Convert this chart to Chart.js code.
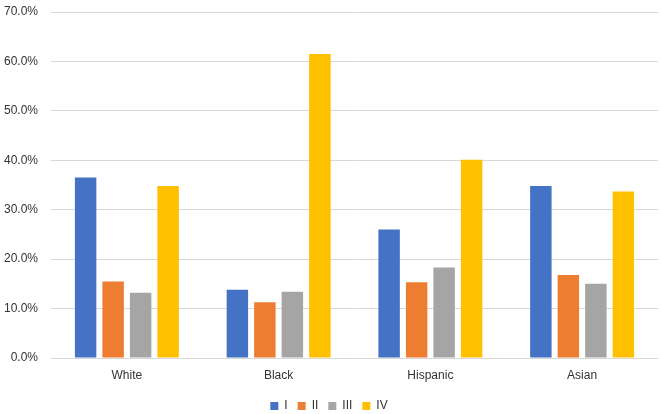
<!DOCTYPE html>
<html>
<head>
<meta charset="utf-8">
<script src="https://cdn.jsdelivr.net/npm/chart.js@4/dist/chart.umd.min.js"></script>
<style>
  html, body { margin: 0; padding: 0; background: #fff; }
  #wrap { width: 662px; height: 414px; }
</style>
</head>
<body>
<div id="wrap"><canvas id="myChart" width="662" height="414"></canvas></div>
<script>
// data
const categories = ['White', 'Black', 'Hispanic', 'Asian'];
const seriesNames = ['I', 'II', 'III', 'IV'];
const valuesI   = [36.5, 13.8, 26.0, 34.8];
const valuesII  = [15.5, 11.3, 15.3, 16.8];
const valuesIII = [13.2, 13.4, 18.3, 15.0];
const valuesIV  = [34.8, 61.5, 40.1, 33.7];
const yTicks = [0, 10, 20, 30, 40, 50, 60, 70];

const colors = ['#4472C4', '#ED7D31', '#A5A5A5', '#FFC000'];
const allValues = [valuesI, valuesII, valuesIII, valuesIV];

const data = {
  labels: categories,
  datasets: seriesNames.map((name, i) => ({
    label: name,
    data: allValues[i],
    backgroundColor: colors[i],
    borderWidth: 0,
    categoryPercentage: 0.725,
    barPercentage: 0.78
  }))
};

const font = { family: '"Liberation Sans", Arial, sans-serif', size: 12 };

// config
const config = {
  type: 'bar',
  data,
  options: {
    responsive: false,
    animation: false,
    layout: { padding: { top: 12, right: 4, left: 0, bottom: -8 } },
    scales: {
      x: {
        grid: { display: false, drawTicks: false },
        border: { display: false },
        ticks: { color: '#333333', font, padding: 10 },
        afterFit: (s) => { s.height = 32; }
      },
      y: {
        min: 0,
        max: 70,
        afterBuildTicks: (s) => { s.ticks = yTicks.map(v => ({ value: v })); },
        grid: { color: '#D9D9D9', lineWidth: 1, drawTicks: false },
        border: { display: false },
        ticks: {
          color: '#333333',
          font,
          padding: 13,
          callback: (v) => v.toFixed(1) + '%'
        },
        afterFit: (s) => { s.width = 51; s.paddingTop = 0; s.paddingBottom = 0; }
      }
    },
    plugins: {
      legend: {
        position: 'bottom',
        labels: { boxWidth: 8, boxHeight: 8, padding: 10, color: '#333333', font }
      },
      tooltip: { enabled: false }
    }
  }
};

// render
const myChart = new Chart(document.getElementById('myChart'), config);
</script>
</body>
</html>
